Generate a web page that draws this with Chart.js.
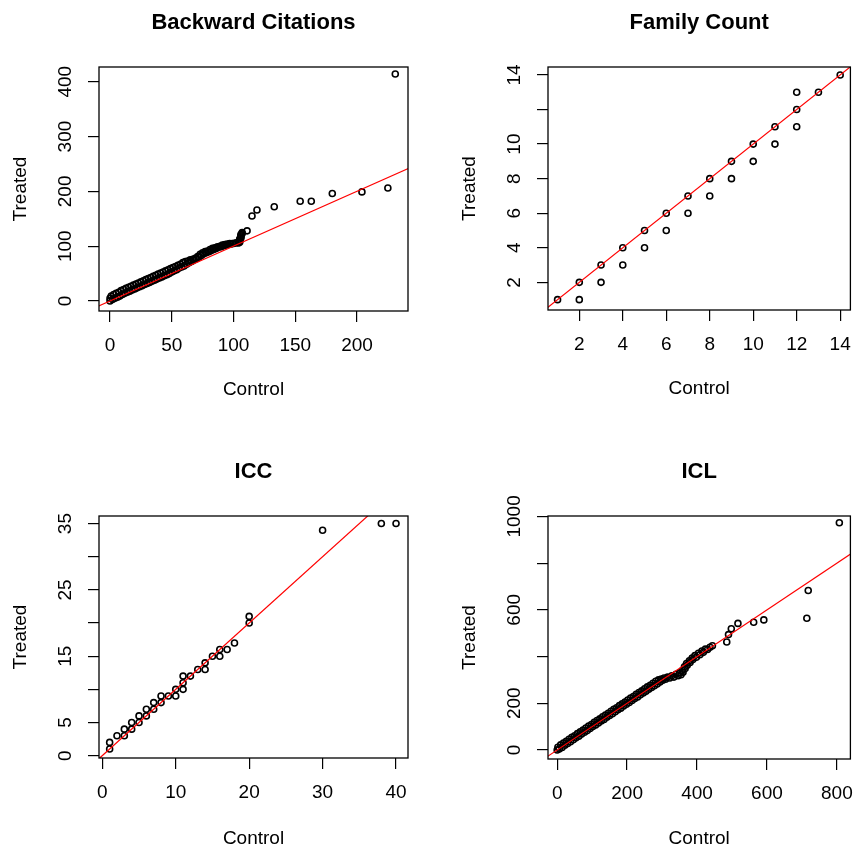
<!DOCTYPE html>
<html>
<head>
<meta charset="utf-8">
<script src="https://cdn.jsdelivr.net/npm/chart.js@4.4.0/dist/chart.umd.min.js"></script>
<style>
  html, body { margin: 0; padding: 0; background: #fff; }
  #grid { position: relative; width: 856px; height: 848px; }
  #grid canvas { position: absolute; }
</style>
</head>
<body>
<div id="grid">
  <canvas id="bc" width="428" height="424" style="left:0;top:0;width:428px;height:424px"></canvas>
  <canvas id="fc" width="428" height="424" style="left:428px;top:0;width:428px;height:424px"></canvas>
  <canvas id="icc" width="428" height="424" style="left:0;top:424px;width:428px;height:424px"></canvas>
  <canvas id="icl" width="428" height="424" style="left:428px;top:424px;width:428px;height:424px"></canvas>
</div>
<script>
// Backward Citations (control quantile vs treated quantile)
const bcControl = [
  0,0,1,2,3,4,5,6,7,8,9,10,11,12,13,14,15,16,17,18,19,20,21,22,23,24,25,26,27,28,29,30,
  31,32,33,34,35,36,37,38,39,40,41,42,43,44,45,46,47,48,49,50,51,52,53,54,55,56,57,58,59,60,
  61,62,63,64,65,66,67,68,69,70,71,72,73,74,75,76,77,78,79,80,81,82,83,84,85,86,87,88,89,90,
  91,92,93,94,95,96,97,98,99,100,102,104,105,105,105,105,106,106,106,106,107,107,
  111,115,119,133,154,163,180,204,225,231];
const bcTreated = [
  0,5,9,3,12,5,14,7,16,9,19,12,21,14,23,16,25,18,27,20,29,22,31,24,33,26,35,28,37,30,39,32,
  41,34,43,36,45,38,47,40,49,42,51,44,53,46,55,48,57,50,59,53,61,55,63,57,65,60,67,62,70,64,
  72,67,73,70,75,72,76,75,78,77,81,80,85,83,88,86,90,88,91,90,94,92,96,94,97,96,99,98,100,99,
  102,101,103,102,104,103,105,104,105,105,106,106,107,109,111,113,115,117,119,121,123,125,
  128,155,166,172,182,182,196,199,206,414];
const bcXTicks = [0, 50, 100, 150, 200];
const bcXLabels = ['0', '50', '100', '150', '200'];
const bcYTicks = [0, 100, 200, 300, 400];
const bcYLabels = ['0', '100', '200', '300', '400'];

// Family Count
const fcControl = [1,2,2,3,3,4,4,5,5,6,6,7,7,8,8,9,9,10,10,11,11,12,12,12,13,14];
const fcTreated = [1,1,2,2,3,3,4,4,5,5,6,6,7,7,8,8,9,9,10,10,11,11,12,13,13,14];
const fcXTicks = [2, 4, 6, 8, 10, 12, 14];
const fcXLabels = ['2', '4', '6', '8', '10', '12', '14'];
const fcYTicks = [2, 4, 6, 8, 10, 12, 14];
const fcYLabels = ['2', '4', '6', '8', '10', '', '14'];

// ICC
const iccControl = [1,1,2,3,3,4,4,5,5,6,6,7,7,8,8,9,10,10,11,11,11,12,13,14,14,15,16,16,17,18,20,20,30,38,40];
const iccTreated = [1,2,3,3,4,4,5,5,6,6,7,7,8,8,9,9,9,10,10,11,12,12,13,13,14,15,15,16,16,17,20,21,34,35,35];
const iccXTicks = [0, 10, 20, 30, 40];
const iccXLabels = ['0', '10', '20', '30', '40'];
const iccYTicks = [0, 5, 10, 15, 20, 25, 30, 35];
const iccYLabels = ['0', '5', '', '15', '', '25', '', '35'];

// ICL
const iclControl = [
  0,2,6,10,14,18,22,26,30,34,38,42,46,50,54,58,62,66,70,74,78,82,86,90,94,98,102,106,110,114,
  118,122,126,130,134,138,142,146,150,154,158,162,166,170,174,178,182,186,190,194,198,202,206,210,
  214,218,222,226,230,234,238,242,246,250,254,258,262,266,270,274,278,282,286,290,294,298,302,306,
  310,316,322,328,334,340,346,350,354,358,360,364,366,370,372,378,380,386,388,394,398,404,408,414,
  418,424,430,437,444,485,490,498,517,562,591,714,718,807];
const iclTreated = [
  0,12,4,22,11,30,20,37,28,46,35,54,44,61,52,70,59,78,68,85,76,94,83,102,92,109,100,118,107,126,
  116,133,124,142,131,150,140,157,148,166,155,174,164,181,172,190,179,198,188,205,196,214,203,222,
  212,229,220,238,227,246,236,253,244,262,251,270,260,277,268,286,275,294,283,300,291,304,299,308,
  303,312,308,318,312,324,318,330,322,340,333,356,349,370,363,382,375,394,387,404,397,414,408,424,
  418,432,430,440,446,462,494,519,542,547,557,564,683,973];
const iclXTicks = [0, 200, 400, 600, 800];
const iclXLabels = ['0', '200', '400', '600', '800'];
const iclYTicks = [0, 200, 400, 600, 800, 1000];
const iclYLabels = ['0', '200', '', '600', '', '1000'];

const FONT = "'Liberation Sans', Arial, Helvetica, sans-serif";
const TICK_PX = 19;
const TICK_LEN = 11;

// box round the plot region + the panel title above it
const frame = {
  id: 'frame',
  defaults: { title: '' },
  afterDraw(chart, args, opts) {
    const { ctx, chartArea: a } = chart;
    ctx.save();
    ctx.strokeStyle = '#000';
    ctx.lineWidth = 1.3;
    ctx.strokeRect(a.left, a.top, a.right - a.left, a.bottom - a.top);
    ctx.fillStyle = '#000';
    ctx.font = `bold 22px ${FONT}`;
    ctx.textAlign = 'center';
    ctx.textBaseline = 'middle';
    ctx.fillText(opts.title, (a.left + a.right) / 2, a.top - 44);
    ctx.restore();
  }
};

const meas = document.createElement('canvas').getContext('2d');
meas.font = `${TICK_PX}px ${FONT}`;
function yPad(labels) {
  const w = Math.max(...labels.map(l => meas.measureText(l).width));
  return 33 - TICK_LEN - w / 2;
}

function makePanel(id, p) {
  const canvas = document.getElementById(id);
  const W = canvas.width, H = canvas.height;
  const pts = p.control.map((x, i) => ({ x, y: p.treated[i] }));
  const lo = Math.min(p.x[0], p.y[0]), hi = Math.max(p.x[1], p.y[1]);
  const tickFont = { family: FONT, size: TICK_PX, lineHeight: 1.2 };
  const titleFont = { family: FONT, size: TICK_PX, lineHeight: 1 };
  const grid = { drawOnChartArea: false, drawTicks: true, tickLength: TICK_LEN, color: '#000', lineWidth: 1.2 };

  return new Chart(canvas, {
    type: 'scatter',
    data: {
      datasets: [
        { data: [{ x: lo, y: lo }, { x: hi, y: hi }], showLine: true, borderColor: '#ff0000', borderWidth: 1.2, pointRadius: 0 },
        { data: pts, pointRadius: 3, borderWidth: 1.6, borderColor: '#000', backgroundColor: 'rgba(0,0,0,0)' }
      ]
    },
    plugins: [frame],
    options: {
      responsive: false,
      animation: false,
      events: [],
      devicePixelRatio: 1,
      layout: { padding: { left: 0, top: p.box.top, right: W - p.box.right, bottom: 0 } },
      plugins: {
        legend: { display: false },
        tooltip: { enabled: false },
        frame: { title: p.title }
      },
      scales: {
        x: {
          type: 'linear', position: 'bottom', min: p.x[0], max: p.x[1],
          afterBuildTicks: s => { s.ticks = p.xTicks.map(v => ({ value: v })); },
          afterFit: s => { s.height = H - p.box.bottom; s.paddingLeft = 0; s.paddingRight = 0; },
          ticks: { autoSkip: false, maxRotation: 0, padding: 12.1, color: '#000', font: tickFont, callback: (v, i) => p.xLabels[i] },
          grid: grid,
          border: { display: false },
          title: { display: true, text: 'Control', color: '#000', font: titleFont,
                   padding: { top: 0, bottom: H - (p.box.bottom + p.xTitleOff) - 9.5 } }
        },
        y: {
          type: 'linear', position: 'left', min: p.y[0], max: p.y[1],
          afterBuildTicks: s => { s.ticks = p.yTicks.map(v => ({ value: v })); },
          afterFit: s => { s.width = p.box.left; s.paddingTop = 0; s.paddingBottom = 0; },
          ticks: { autoSkip: false, minRotation: 90, maxRotation: 90, crossAlign: 'center',
                   padding: yPad(p.yLabels), color: '#000', font: tickFont, callback: (v, i) => p.yLabels[i] },
          grid: grid,
          border: { display: false },
          title: { display: true, text: 'Treated', color: '#000', font: titleFont,
                   padding: { top: p.box.left - 78 - 9.5, bottom: 0 } }
        }
      }
    }
  });
}

makePanel('bc', {
  title: 'Backward Citations', control: bcControl, treated: bcTreated,
  x: [-8.9, 241.3], y: [-18.2, 426.8],
  xTicks: bcXTicks, xLabels: bcXLabels, yTicks: bcYTicks, yLabels: bcYLabels,
  box: { left: 99, right: 408, top: 67, bottom: 311 }, xTitleOff: 79
});
makePanel('fc', {
  title: 'Family Count', control: fcControl, treated: fcTreated,
  x: [0.56, 14.47], y: [0.4, 14.46],
  xTicks: fcXTicks, xLabels: fcXLabels, yTicks: fcYTicks, yLabels: fcYLabels,
  box: { left: 120, right: 427, top: 67, bottom: 310 }, xTitleOff: 79
});
makePanel('icc', {
  title: 'ICC', control: iccControl, treated: iccTreated,
  x: [-0.45, 41.63], y: [-0.35, 36.14],
  xTicks: iccXTicks, xLabels: iccXLabels, yTicks: iccYTicks, yLabels: iccYLabels,
  box: { left: 99, right: 408, top: 92, bottom: 334 }, xTitleOff: 81
});
makePanel('icl', {
  title: 'ICL', control: iclControl, treated: iclTreated,
  x: [-26.2, 838.6], y: [-38.6, 1001.7],
  xTicks: iclXTicks, xLabels: iclXLabels, yTicks: iclYTicks, yLabels: iclYLabels,
  box: { left: 120, right: 427, top: 92, bottom: 335 }, xTitleOff: 80
});
</script>
</body>
</html>
